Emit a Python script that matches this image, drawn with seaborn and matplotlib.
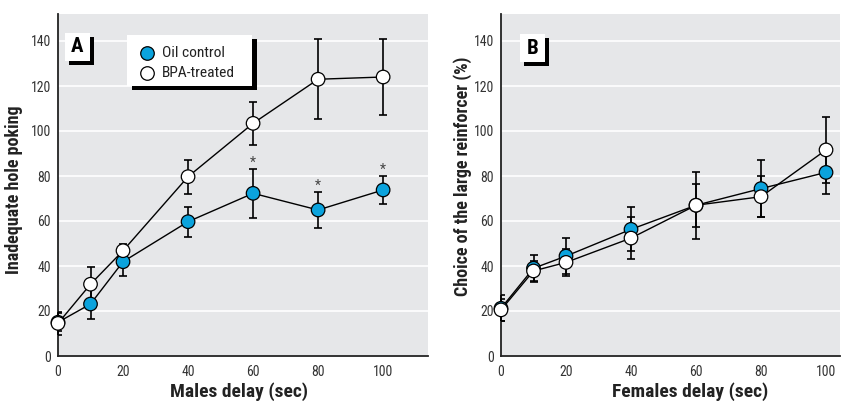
import numpy as np
import pandas as pd
import matplotlib
matplotlib.use("Agg")
import matplotlib.pyplot as plt
import seaborn as sns
from matplotlib.patches import Rectangle
from matplotlib import font_manager

# ---------------- data ----------------
delays = [0, 10, 20, 40, 60, 80, 100]
groups = ["Oil control", "BPA-treated"]

male_oil = [15, 23.1, 41.9, 59.7, 72.3, 64.9, 73.8]
male_oil_err = [4, 6.5, 6.5, 6.7, 11, 8, 6.4]
male_bpa = [14.5, 31.9, 46.8, 79.7, 103.4, 123, 124]
male_bpa_err = [5, 7.8, 3, 7.5, 9.5, 17.8, 17]

female_oil = [21.2, 39, 44.4, 56.3, 67, 74.4, 81.6]
female_oil_err = [5.8, 6, 8, 9.8, 9.5, 12.7, 9.6]
female_bpa = [20.5, 37.8, 41.6, 52.4, 67, 70.8, 91.6]
female_bpa_err = [5, 4.6, 6, 9.3, 15, 9.2, 14.5]

sig_delays = [60, 80, 100]          # significant differences in panel A

y_ticks = [0, 20, 40, 60, 80, 100, 120, 140]
x_ticks = [0, 20, 40, 60, 80, 100]

BLUE = "#0ba3dd"
BG = "#e6e7e9"

# ---------------- style ----------------
sns.set_theme(style="darkgrid", rc={"axes.facecolor": BG, "grid.color": "white",
                                     "grid.linewidth": 1.2})


def pick_font():
    entries = font_manager.fontManager.ttflist
    prefs = ["Liberation Sans Narrow", "Roboto Condensed", "Open Sans Condensed",
             "Noto Sans Condensed", "Arial Narrow"]
    names = {f.name for f in entries}
    for p in prefs:
        if p in names:
            return [p, "DejaVu Sans"], "normal"
    for f in entries:
        st = f.stretch
        cond = (isinstance(st, str) and "condensed" in st) or (isinstance(st, (int, float)) and st < 500)
        if cond and f.name in ("DejaVu Sans", "Noto Sans", "Roboto", "Open Sans"):
            return [f.name, "DejaVu Sans"], "condensed"
    if "Liberation Sans" in names:
        return ["Liberation Sans", "DejaVu Sans"], "normal"
    return ["DejaVu Sans"], "normal"


FAMILY, STRETCH = pick_font()
plt.rcParams["font.family"] = FAMILY
plt.rcParams["font.stretch"] = STRETCH

fig = plt.figure(figsize=(8.41, 4.01), dpi=100)
renderer = fig.canvas.get_renderer()


def fit_size(s, target_px, max_size, weight="normal"):
    t = fig.text(0, 0, s, fontsize=10, fontweight=weight)
    w = t.get_window_extent(renderer).width
    t.remove()
    return min(max_size, 10 * target_px / w)


TICK_FS = fit_size("100", 20, 11.5)
XLAB_FS = fit_size("Males delay (sec)", 138, 14.5, "bold")
YLAB_FS = fit_size("Choice of the large reinforcer (%)", 269, 13, "bold")
LEG_FS = fit_size("Oil control", 63, 12)

axA = fig.add_axes([58 / 841, 45 / 401, 370 / 841, 342 / 401])
axB = fig.add_axes([501 / 841, 45 / 401, 339 / 841, 342 / 401])


def make_df(oil, bpa):
    return pd.DataFrame({
        "delay": delays + delays,
        "value": oil + bpa,
        "group": [groups[0]] * len(delays) + [groups[1]] * len(delays),
    })


def draw_panel(ax, oil, oil_err, bpa, bpa_err, xmax, xlabel, ylabel, letter,
               letter_box, xlab_x, ylab_x, ylab_y):
    df = make_df(oil, bpa)
    sns.lineplot(data=df, x="delay", y="value", hue="group",
                 palette={groups[0]: "black", groups[1]: "black"},
                 linewidth=1.0, legend=False, ax=ax, zorder=2, errorbar=None)
    for vals, errs in ((oil, oil_err), (bpa, bpa_err)):
        ax.errorbar(delays, vals, yerr=errs, fmt="none", ecolor="black",
                    elinewidth=1.2, capsize=3.2, capthick=1.2, zorder=3)
    sns.scatterplot(data=df, x="delay", y="value", hue="group",
                    palette={groups[0]: BLUE, groups[1]: "white"},
                    edgecolor="black", linewidth=0.9, s=95, legend=False,
                    ax=ax, zorder=5)
    for c in ax.collections:
        c.set_clip_on(False)

    ax.set_xlim(0, xmax)
    ax.set_ylim(0, 152)
    ax.set_xticks(x_ticks)
    ax.set_yticks(y_ticks)
    ax.xaxis.grid(False)
    ax.yaxis.grid(True)
    for s in ("top", "right"):
        ax.spines[s].set_visible(False)
    for s in ("left", "bottom"):
        ax.spines[s].set_visible(True)
        ax.spines[s].set_color("#222222")
        ax.spines[s].set_linewidth(1.3)
    ax.tick_params(axis="both", length=0, labelsize=TICK_FS, labelcolor="#333333")
    ax.tick_params(axis="y", pad=5)
    ax.tick_params(axis="x", pad=6.5)
    ax.set_xlabel(xlabel, fontsize=XLAB_FS, fontweight="bold", color="#222222")
    ax.set_ylabel(ylabel, fontsize=YLAB_FS, fontweight="bold", color="#222222")
    ax.xaxis.set_label_coords(xlab_x, -0.076)
    ax.yaxis.set_label_coords(ylab_x, ylab_y)

    # panel letter with drop shadow
    x0, y0, w, h = letter_box
    dx, dy = 4 / ax.bbox.width, 4 / ax.bbox.height
    ax.add_patch(Rectangle((x0 + dx, y0 - dy), w, h, transform=ax.transAxes,
                           facecolor="black", edgecolor="none", zorder=6, clip_on=False))
    ax.add_patch(Rectangle((x0, y0), w, h, transform=ax.transAxes,
                           facecolor="white", edgecolor="none", zorder=7, clip_on=False))
    ax.text(x0 + w / 2, y0 + h / 2, letter, transform=ax.transAxes, ha="center",
            va="center", fontsize=15, fontweight="bold", color="black", zorder=8)


draw_panel(axA, male_oil, male_oil_err, male_bpa, male_bpa_err, 113.8,
           "Males delay (sec)", "Inadequate hole poking", "A",
           (7 / 370, 1 - 47 / 342, 25 / 370, 28 / 342),
           0.489, -0.095, 0.485)
draw_panel(axB, female_oil, female_oil_err, female_bpa, female_bpa_err, 104.3,
           "Females delay (sec)", "Choice of the large reinforcer (%)", "B",
           (19 / 339, 1 - 48 / 342, 25 / 339, 28 / 342),
           0.558, -0.086, 0.524)

# significance stars above the oil-control error bars
for d in sig_delays:
    i = delays.index(d)
    top = male_oil[i] + male_oil_err[i]
    axA.annotate("*", (d, top), xytext=(0, 1.5), textcoords="offset points",
                 ha="center", va="baseline", fontsize=10, color="#444444", zorder=6)

# legend box with drop shadow (panel A)
lx0, ly0, lw, lh = 69 / 370, 1 - 72 / 342, 125 / 370, 51 / 342
sdx, sdy = 5 / 370, 4 / 342
axA.add_patch(Rectangle((lx0 + sdx, ly0 - sdy), lw, lh, transform=axA.transAxes,
                        facecolor="black", edgecolor="none", zorder=6, clip_on=False))
axA.add_patch(Rectangle((lx0, ly0), lw, lh, transform=axA.transAxes,
                        facecolor="white", edgecolor="none", zorder=7, clip_on=False))
for k, (g, fc) in enumerate(zip(groups, [BLUE, "white"])):
    yy = 1 - (39 + 20 * k) / 342
    axA.scatter([(147 - 58) / 370], [yy], s=95, facecolor=fc, edgecolor="black",
                linewidth=0.9, transform=axA.transAxes, zorder=8, clip_on=False)
    axA.text((162 - 58) / 370, yy, g, transform=axA.transAxes, ha="left",
             va="center", fontsize=LEG_FS, color="#222222", zorder=8)

fig.savefig("out.png", dpi=100)
